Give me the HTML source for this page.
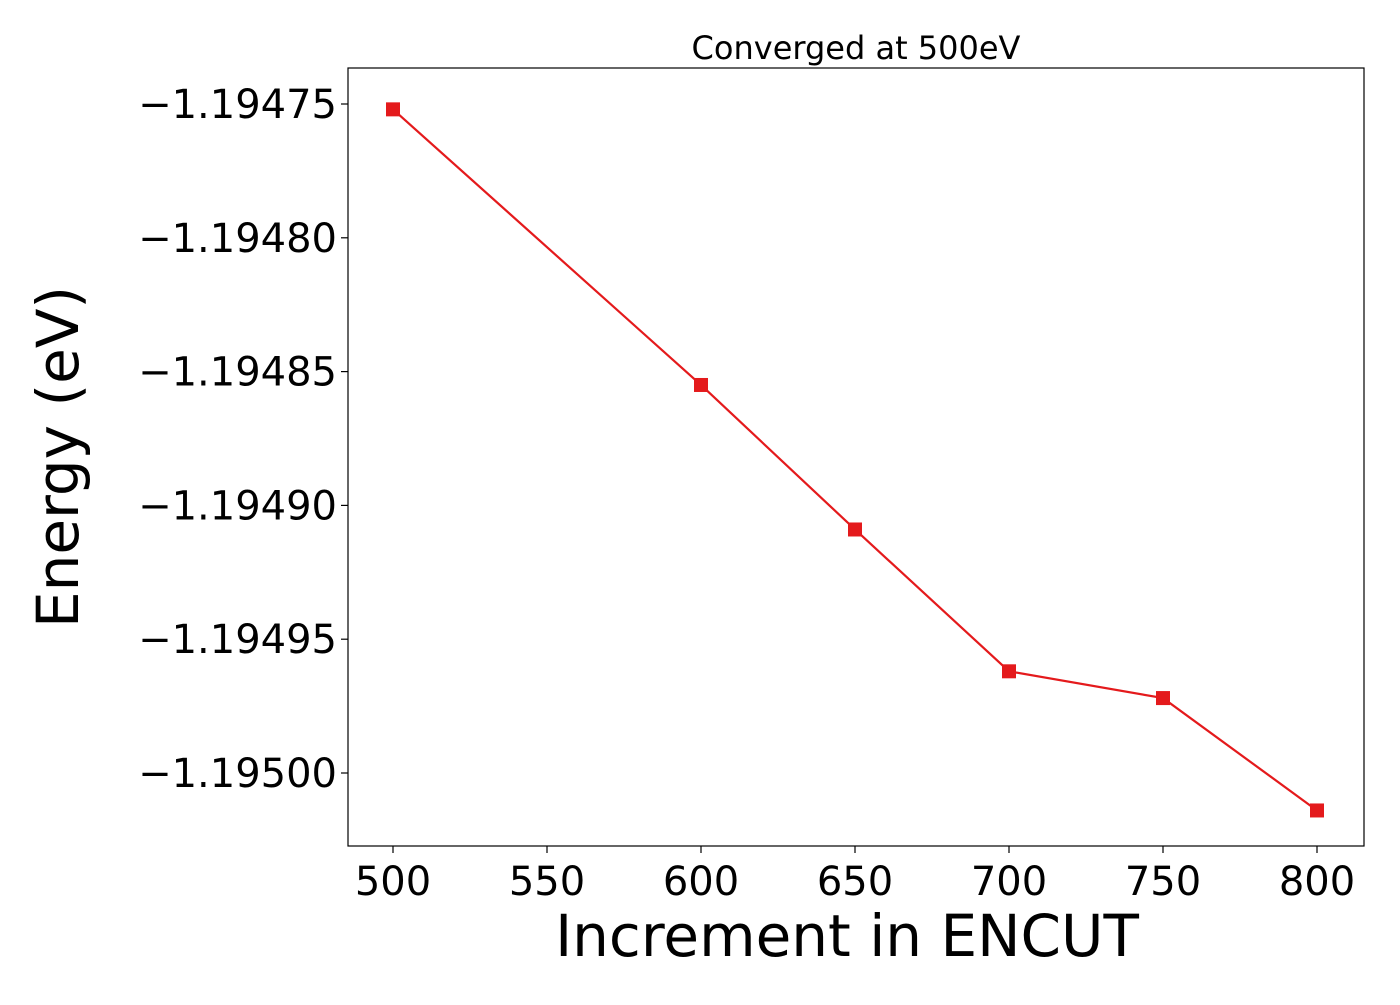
<!DOCTYPE html>
<html><head><meta charset="utf-8"><style>
body{margin:0;background:#fff}
svg text{font-family:"DejaVu Sans","Liberation Sans",sans-serif;fill:#000}
</style></head><body>
<svg width="1400" height="1000" id="chart">
<rect x="0" y="0" width="1400" height="1000" fill="#fff"/>
<text x="856" y="59" font-size="32" text-anchor="middle">Converged at 500eV</text>
<text x="847" y="956" font-size="58" text-anchor="middle">Increment in ENCUT</text>
<text transform="translate(78,457) rotate(-90)" font-size="58" text-anchor="middle">Energy (eV)</text>
<g id="axes"></g>
<rect x="348" y="68" width="1016" height="778" fill="none" stroke="#000" stroke-width="1.2"/>
</svg>
<script>
const xs=[500,600,650,700,750,800];
const ys=[-1.194752,-1.194855,-1.194909,-1.194962,-1.194972,-1.195014];
const xTicks=[500,550,600,650,700,750,800];
const yTicks=[-1.19475,-1.19480,-1.19485,-1.19490,-1.19495,-1.19500];
const yTickLabels=["−1.19475","−1.19480","−1.19485","−1.19490","−1.19495","−1.19500"];
const sx=v=>393+(v-500)*(924/300);
const sy=v=>104+(-1.19475-v)/0.00005*133.8;
const NS="http://www.w3.org/2000/svg";
const g=document.getElementById('axes');
function mk(t,a){const e=document.createElementNS(NS,t);for(const k in a)e.setAttribute(k,a[k]);g.appendChild(e);return e;}
xTicks.forEach(v=>{
 const l=mk('line',{x1:sx(v),x2:sx(v),y1:846,y2:853,stroke:'#000','stroke-width':1.2});
 
 
 const t=mk('text',{x:sx(v),y:895,'font-size':40,'text-anchor':'middle'});t.textContent=v;
 
 
});
yTicks.forEach((v,i)=>{
 const l=mk('line',{x1:341,x2:348,y1:sy(v),y2:sy(v),stroke:'#000','stroke-width':1.2});
 
 
 const t=mk('text',{x:337,y:sy(v)+14,'font-size':40,'text-anchor':'end'});t.textContent=yTickLabels[i];
 
 
});
const p=mk('polyline',{points:xs.map((x,i)=>sx(x)+','+sy(ys[i])).join(' '),fill:'none',stroke:'#e41a1c','stroke-width':2.2});


xs.forEach((x,i)=>{
 const r=mk('rect',{x:sx(x)-7,y:sy(ys[i])-7,width:14,height:14,fill:'#e41a1c'});
 
 
});
</script>
</body></html>
